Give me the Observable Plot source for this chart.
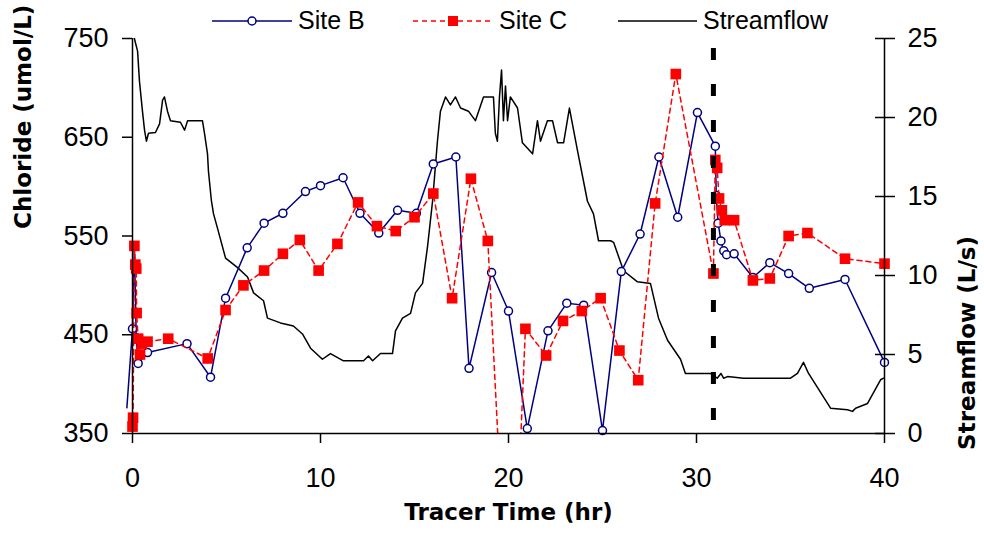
<!DOCTYPE html>
<html>
<head>
<meta charset="utf-8">
<script src="https://cdn.jsdelivr.net/npm/d3@7"></script>
<script src="https://cdn.jsdelivr.net/npm/@observablehq/plot@0.6"></script>
<style>
  html, body { margin: 0; padding: 0; background: white; }
  #wrap { position: relative; width: 984px; height: 536px; overflow: hidden; }
  #legend { position: absolute; left: 0; top: 0; }
</style>
</head>
<body>
<div id="wrap">
  <div id="chart"></div>
  <svg id="legend" width="984" height="44"></svg>
</div>
<script>
// ---- Data ----
// Site B chloride (umol/L) vs tracer time (hr)
const siteBTime = [-0.3, 0, 0.1, 0.2, 0.3, 0.8, 2.9, 4.15, 4.95, 6.1, 7.0, 8.0, 9.2, 10.0, 11.2, 12.1, 13.1, 14.1, 15.1, 16.0, 17.2, 17.9, 19.1, 20.0, 21.0, 22.1, 23.1, 24.0, 25.0, 26.0, 27.0, 28.0, 29.0, 30.05, 31.0, 31.05, 31.15, 31.3, 31.45, 31.6, 32.0, 33.0, 33.9, 34.9, 36.0, 37.9, 40.0];
const siteBChloride = [376, 456, 540, 447, 421, 432, 441, 407, 487, 538, 563, 573, 595, 601, 609, 573, 553, 576, 573, 623, 630, 416, 513, 474, 355, 454, 482, 480, 353, 514, 552, 630, 569, 675, 641, 591, 563, 545, 535, 531, 532, 508, 523, 512, 497, 506, 422];

// Site C chloride (umol/L)
const siteCTime = [0, 0.03, 0.1, 0.15, 0.2, 0.22, 0.3, 0.4, 0.5, 0.8, 1.9, 4.0, 4.95, 5.9, 7.0, 8.0, 8.9, 9.9, 10.9, 12.0, 13.0, 14.0, 15.0, 16.0, 17.0, 18.0, 18.9, 20.1, 20.9, 22.0, 22.9, 23.9, 24.9, 25.9, 26.9, 27.8, 28.9, 30.9, 31.0, 31.1, 31.2, 31.35, 31.5, 32.0, 33.0, 33.9, 34.9, 35.9, 37.9, 40.0];
const siteCChloride = [357, 366, 540, 521, 517, 472, 446, 430, 441, 443, 446, 426, 475, 500, 515, 532, 546, 515, 542, 584, 560, 555, 569, 593, 487, 608, 545, 100, 456, 429, 464, 474, 487, 434, 404, 583, 714, 512, 627, 619, 588, 576, 566, 566, 505, 507, 550, 553, 527, 522];

// Streamflow (L/s)
const flowTime = [0.1, 0.27, 0.37, 0.53, 0.64, 0.74, 0.85, 1.22, 1.44, 1.6, 1.7, 1.86, 2.02, 2.55, 2.77, 2.93, 3.72, 3.83, 3.99, 4.04, 4.2, 4.31, 4.52, 4.95, 5.59, 6.12, 6.44, 6.97, 7.18, 7.87, 8.56, 9.04, 9.47, 10.1, 10.53, 11.22, 12.29, 12.55, 12.77, 13.19, 13.83, 13.99, 14.36, 14.79, 15.05, 15.43, 15.69, 15.96, 16.22, 16.38, 16.65, 16.91, 17.18, 17.45, 17.87, 18.24, 18.67, 19.2, 19.3, 19.41, 19.52, 19.63, 19.73, 19.84, 19.95, 20.1, 20.48, 20.74, 21.28, 21.54, 21.7, 22.07, 22.34, 22.61, 22.93, 23.24, 23.67, 24.2, 24.52, 24.79, 25.43, 25.59, 26.12, 26.86, 27.55, 27.98, 28.46, 29.15, 29.41, 30.74, 31.1, 31.3, 31.44, 31.65, 32.5, 35.0, 35.37, 35.69, 35.96, 36.44, 37.13, 38.03, 38.3, 38.46, 39.1, 39.79, 39.95];
const flowRate = [25, 24.2, 22.3, 20.4, 19.2, 18.5, 19.0, 19.05, 19.6, 21.1, 21.3, 20.4, 19.8, 19.7, 19.2, 19.8, 19.8, 19.0, 17.7, 16.6, 14.7, 13.9, 13.0, 11.1, 10.5, 9.9, 8.9, 8.4, 7.3, 7.0, 6.8, 6.3, 5.4, 4.7, 5.06, 4.6, 4.6, 4.9, 4.6, 5.06, 5.06, 6.5, 7.3, 7.6, 8.9, 9.5, 11.8, 14.7, 18.5, 20.4, 21.3, 20.8, 21.3, 20.6, 20.4, 19.8, 21.3, 21.3, 19.0, 18.5, 21.3, 23.0, 19.8, 22.0, 19.8, 21.3, 20.6, 18.4, 17.7, 19.8, 18.5, 19.8, 19.8, 18.4, 18.4, 20.6, 17.9, 14.7, 13.9, 12.2, 12.2, 12.1, 10.3, 9.6, 9.5, 7.3, 5.9, 4.7, 3.8, 3.8, 3.5, 3.8, 3.5, 3.6, 3.5, 3.5, 3.8, 4.5, 3.8, 2.9, 1.6, 1.5, 1.4, 1.6, 1.9, 3.4, 3.5];

// Tracer event marker
const eventTime = [30.9];
const eventSpan = {top: 740, bottom: 363};

// Axis ticks
const timeTicks = [0, 10, 20, 30, 40];
const chlorideTicks = [350, 450, 550, 650, 750];
const flowTicks = [0, 5, 10, 15, 20, 25];

// Series names and colours
const seriesNames = ["Site B", "Site C", "Streamflow"];
const seriesColors = ["#000080", "#ff0000", "#000000"];

// ---- Build tables ----
const siteB = siteBTime.map((t, i) => ({t, v: siteBChloride[i]}));
const siteC = siteCTime.map((t, i) => ({t, v: siteCChloride[i]}));
const flow = flowTime.map((t, i) => ({t, s: flowRate[i]}));

// secondary axis mapping: 0..25 L/s -> 350..750 umol/L
const chlMin = chlorideTicks[0], chlMax = chlorideTicks[chlorideTicks.length - 1];
const flowMax = flowTicks[flowTicks.length - 1];
const flowToY = s => chlMin + s * (chlMax - chlMin) / flowMax;
const yToFlow = y => Math.round((y - chlMin) * flowMax / (chlMax - chlMin));

const tickFont = "Liberation Sans, Arial, sans-serif";
const titleFont = "DejaVu Sans, sans-serif";

const chart = Plot.plot({
  width: 984,
  height: 536,
  marginLeft: 132,
  marginRight: 100,
  marginTop: 38,
  marginBottom: 103,
  x: {domain: [timeTicks[0], timeTicks[timeTicks.length - 1]]},
  y: {domain: [chlMin, chlMax]},
  style: {fontFamily: tickFont, fontSize: "27px", color: "black", background: "white", overflow: "visible"},
  marks: [
    // streamflow (secondary axis)
    Plot.line(flow, {x: "t", y: d => flowToY(d.s), stroke: seriesColors[2], strokeWidth: 1.5, clip: true}),
    // Site B
    Plot.line(siteB, {x: "t", y: "v", stroke: seriesColors[0], strokeWidth: 1.5}),
    Plot.dot(siteB, {filter: d => d.t >= 0, x: "t", y: "v", r: 4, stroke: seriesColors[0], fill: "white", strokeWidth: 1.5}),
    // Site C
    Plot.line(siteC, {x: "t", y: "v", stroke: seriesColors[1], strokeWidth: 1.5, strokeDasharray: "5,4", clip: true}),
    Plot.dot(siteC, {filter: d => d.v >= chlMin, x: "t", y: "v", symbol: "square", r: 6, fill: seriesColors[1]}),
    // event marker
    Plot.ruleX(eventTime, {y1: eventSpan.top, y2: eventSpan.bottom, stroke: "black", strokeWidth: 5, strokeDasharray: "12,24"}),
    // axis lines
    Plot.ruleX([timeTicks[0], timeTicks[timeTicks.length - 1]], {stroke: "black", strokeWidth: 1.5}),
    Plot.ruleY([chlMin], {stroke: "black", strokeWidth: 1.5}),
    // axes
    Plot.axisY({ticks: chlorideTicks, tickSize: 10, tickPadding: 14, label: null, fontSize: 27, strokeWidth: 1.5}),
    Plot.axisY({anchor: "right", ticks: flowTicks.map(flowToY), tickFormat: yToFlow, tickSize: 20, dx: -10, tickPadding: 13, label: null, fontSize: 27, strokeWidth: 1.5}),
    Plot.axisX({ticks: timeTicks, tickSize: 10, tickPadding: 24, label: null, fontSize: 27, strokeWidth: 1.5}),
    // axis titles
    Plot.text(["Chloride (umol/L)"], {frameAnchor: "left", rotate: -90, dx: -109, dy: -7, fontWeight: "bold", fontSize: 23, fontFamily: titleFont, fill: "black"}),
    Plot.text(["Streamflow (L/s)"], {frameAnchor: "right", rotate: -90, dx: 83, fontWeight: "bold", fontSize: 23, fontFamily: titleFont, fill: "black"}),
    Plot.text(["Tracer Time (hr)"], {frameAnchor: "bottom", dy: 86, fontWeight: "bold", fontSize: 23, fontFamily: titleFont, fill: "black"})
  ]
});
document.getElementById("chart").appendChild(chart);

// ---- Legend ----
const leg = d3.select("#legend");
const legendItems = [
  {name: seriesNames[0], color: seriesColors[0], x0: 212, x1: 292, dash: null, marker: "circle"},
  {name: seriesNames[1], color: seriesColors[1], x0: 413, x1: 493, dash: "5,4", marker: "square"},
  {name: seriesNames[2], color: seriesColors[2], x0: 618, x1: 697, dash: null, marker: null}
];
const ly = 21;
legendItems.forEach(it => {
  leg.append("line").attr("x1", it.x0).attr("x2", it.x1).attr("y1", ly).attr("y2", ly)
    .attr("stroke", it.color).attr("stroke-width", 1.5).attr("stroke-dasharray", it.dash);
  const cx = (it.x0 + it.x1) / 2;
  if (it.marker === "circle") leg.append("circle").attr("cx", cx).attr("cy", ly).attr("r", 4).attr("fill", "white").attr("stroke", it.color).attr("stroke-width", 1.5);
  if (it.marker === "square") leg.append("rect").attr("x", cx - 5).attr("y", ly - 5).attr("width", 10).attr("height", 10).attr("fill", it.color);
  leg.append("text").attr("x", it.x1 + 6).attr("y", 29).attr("font-family", tickFont).attr("font-size", 25).attr("fill", "black").text(it.name);
});
</script>
</body>
</html>
